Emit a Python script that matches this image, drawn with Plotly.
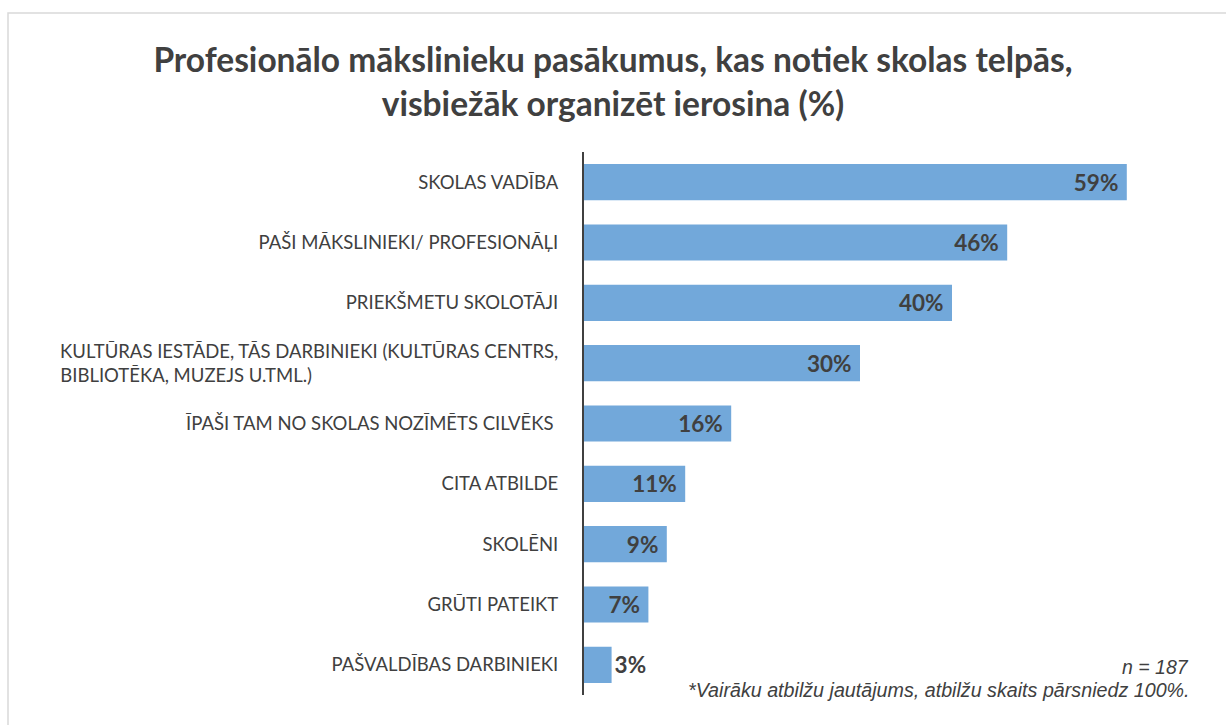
import plotly.graph_objects as go

categories = [
    "SKOLAS VADĪBA",
    "PAŠI MĀKSLINIEKI/ PROFESIONĀĻI",
    "PRIEKŠMETU SKOLOTĀJI",
    "KULTŪRAS IESTĀDE, TĀS DARBINIEKI (KULTŪRAS CENTRS,<br>BIBLIOTĒKA, MUZEJS U.TML.)" + "\u00a0" * 52,
    "ĪPAŠI TAM NO SKOLAS NOZĪMĒTS CILVĒKS ",
    "CITA ATBILDE",
    "SKOLĒNI",
    "GRŪTI PATEIKT",
    "PAŠVALDĪBAS DARBINIEKI",
]
values = [59, 46, 40, 30, 16, 11, 9, 7, 3]
labels = [f"{v}%\u00a0" for v in values]

title_text = "Profesionālo mākslinieku pasākumus, kas notiek skolas telpās,<br>visbiežāk organizēt ierosina (%)"
note_n = "n = 187"
note_multi = "*Vairāku atbilžu jautājums, atbilžu skaits pārsniedz 100%."

W, H = 1226, 725
L, R, T, B = 584, 30, 152, 30
pw, ph = W - L - R, H - T - B

def px(x):
    return (x - L) / pw

def py(y):
    return (H - B - y) / ph

# labels that fit go inside the bar end; the narrowest bar's label sits just outside
text_pos = ["inside" if v >= 5 else "outside" for v in values]

fig = go.Figure()
fig.add_trace(go.Bar(
    y=categories,
    x=values,
    orientation="h",
    marker=dict(color="#72A8DA", line=dict(width=0)),
    width=0.6,
    text=labels,
    textposition=text_pos,
    insidetextanchor="end",
    constraintext="none",
    textangle=0,
    cliponaxis=False,
    insidetextfont=dict(family="Lato", size=22.5, color="#404040", weight="bold"),
    outsidetextfont=dict(family="Lato", size=22.5, color="#404040", weight="bold"),
    hoverinfo="skip",
))

fig.update_layout(
    width=W, height=H,
    margin=dict(l=L, r=R, t=T, b=B, autoexpand=False),
    paper_bgcolor="white",
    plot_bgcolor="white",
    showlegend=False,
    font=dict(family="Lato", color="#404040"),
    xaxis=dict(range=[0, pw / 9.2], visible=False, fixedrange=True),
    yaxis=dict(
        autorange="reversed",
        showline=True, linecolor="#404040", linewidth=2,
        ticks="", showgrid=False, zeroline=False,
        tickfont=dict(family="Lato", size=18.5, color="#404040"),
        ticklabelstandoff=20,
        fixedrange=True,
    ),
    title=dict(
        text=title_text,
        x=613 / W, xanchor="center",
        y=1 - 72 / H, yanchor="middle",
        xref="container", yref="container",
        font=dict(family="Lato", size=33.5, color="#404040", weight="bold"),
    ),
    shapes=[dict(
        type="rect", xref="paper", yref="paper",
        x0=px(8), x1=px(1260), y0=py(760), y1=py(13),
        line=dict(color="#D9D9D9", width=1.5), fillcolor="rgba(0,0,0,0)",
        layer="below",
    )],
    annotations=[
        dict(text=note_n, xref="paper", yref="paper", x=px(1191), y=py(667),
             xanchor="right", yanchor="middle", showarrow=False,
             font=dict(family="Liberation Sans", size=19.5, color="#404040", style="italic")),
        dict(text=note_multi, xref="paper", yref="paper", x=px(1192), y=py(690),
             xanchor="right", yanchor="middle", showarrow=False,
             font=dict(family="Liberation Sans", size=19.7, color="#404040", style="italic")),
    ],
)

fig.write_html("out.html", config={"displayModeBar": False},
               post_script="document.body.style.margin='0px';")
